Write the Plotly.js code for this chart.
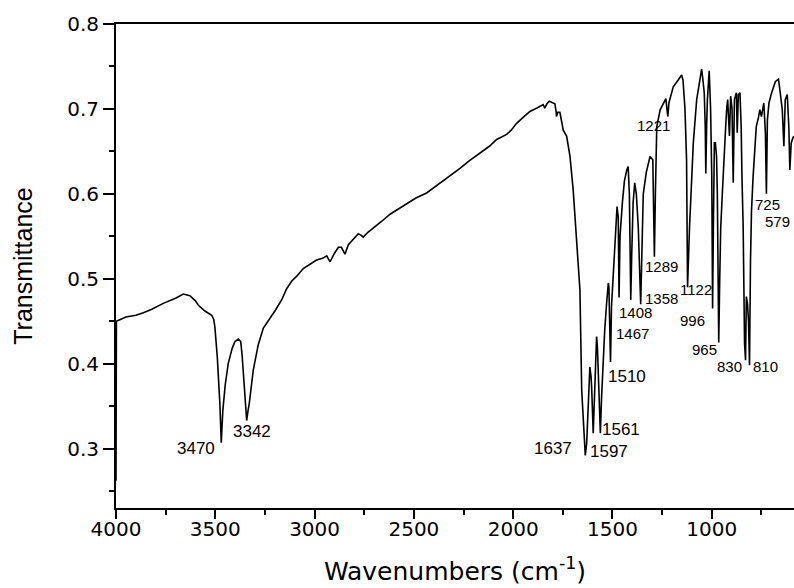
<!DOCTYPE html>
<html>
<head>
<meta charset="utf-8">
<script src="https://cdn.plot.ly/plotly-3.0.1.min.js"></script>
<style>
  html, body { margin: 0; padding: 0; background: #ffffff; }
  #chart { width: 794px; height: 588px; }
</style>
</head>
<body>
<div id="chart"></div>
<script>
// ---- Spectrum data (wavenumber in cm-1, transmittance) ----
const wavenumber = [
  4000, 3998, 3950, 3900, 3862, 3820, 3762, 3700, 3661, 3640, 3628, 3600, 3586, 3552, 3530, 3518, 3508, 3502, 3490, 3477,
  3470, 3462, 3450, 3435, 3415, 3401, 3384, 3372, 3365, 3359, 3350, 3342, 3335, 3329, 3309, 3284, 3258, 3225, 3200, 3166,
  3141, 3116, 3090, 3057, 3030, 2990, 2960, 2939, 2930, 2922, 2900, 2880, 2865, 2847, 2830, 2800, 2780, 2765, 2755, 2730,
  2696, 2660, 2620, 2580, 2536, 2490, 2436, 2400, 2352, 2310, 2268, 2220, 2167, 2120, 2083, 2050, 2033, 2010, 1983, 1950,
  1916, 1880, 1849, 1841, 1830, 1818, 1800, 1790, 1784, 1782, 1775, 1765, 1755, 1748, 1731, 1714, 1698, 1681, 1664, 1655,
  1646, 1637, 1630, 1622, 1614, 1608, 1605, 1597, 1590, 1580, 1576, 1572, 1561, 1555, 1547, 1539, 1530, 1521, 1518, 1510,
  1505, 1497, 1489, 1482, 1477, 1474, 1471, 1467, 1462, 1450, 1440, 1428, 1421, 1415, 1408, 1403, 1396, 1388, 1380, 1370,
  1358, 1352, 1345, 1330, 1311, 1297, 1293, 1289, 1284, 1277, 1260, 1240, 1231, 1226, 1221, 1216, 1194, 1169, 1152, 1145,
  1135, 1127, 1122, 1112, 1093, 1076, 1060, 1051, 1045, 1038, 1033, 1030, 1026, 1022, 1013, 1006, 1000, 996, 992, 987,
  982, 976, 972, 965, 960, 955, 947, 938, 930, 925, 920, 911, 905, 898, 892, 886, 876, 872, 866, 858,
  852, 848, 842, 835, 830, 826, 820, 815, 810, 805, 800, 792, 780, 776, 765, 758, 750, 738, 730, 725,
  720, 712, 700, 691, 680, 671, 664, 660, 652, 645, 637, 630, 620, 612, 607, 600, 593, 587
];
const transmittance = [
  0.262, 0.450, 0.455, 0.457, 0.460, 0.464, 0.471, 0.477, 0.482, 0.481, 0.480, 0.474, 0.469, 0.462, 0.459, 0.457, 0.452, 0.443, 0.408, 0.353,
  0.307, 0.345, 0.375, 0.400, 0.418, 0.426, 0.429, 0.426, 0.410, 0.392, 0.355, 0.333, 0.345, 0.353, 0.392, 0.422, 0.442, 0.453, 0.462, 0.475,
  0.488, 0.497, 0.503, 0.512, 0.516, 0.522, 0.524, 0.527, 0.523, 0.520, 0.530, 0.537, 0.537, 0.529, 0.540, 0.548, 0.553, 0.551, 0.549, 0.555,
  0.561, 0.568, 0.576, 0.582, 0.589, 0.595, 0.601, 0.607, 0.616, 0.623, 0.630, 0.639, 0.648, 0.656, 0.664, 0.668, 0.670, 0.675, 0.683, 0.690,
  0.697, 0.701, 0.705, 0.701, 0.706, 0.709, 0.707, 0.706, 0.697, 0.691, 0.696, 0.696, 0.684, 0.675, 0.668, 0.644, 0.605, 0.546, 0.487, 0.369,
  0.330, 0.292, 0.306, 0.360, 0.396, 0.385, 0.373, 0.318, 0.370, 0.432, 0.420, 0.388, 0.318, 0.360, 0.410, 0.440, 0.470, 0.495, 0.490, 0.402,
  0.467, 0.505, 0.530, 0.570, 0.585, 0.578, 0.573, 0.478, 0.550, 0.590, 0.615, 0.628, 0.632, 0.600, 0.475, 0.530, 0.590, 0.613, 0.600, 0.560,
  0.470, 0.530, 0.600, 0.625, 0.644, 0.640, 0.600, 0.526, 0.600, 0.679, 0.699, 0.708, 0.712, 0.700, 0.691, 0.707, 0.726, 0.734, 0.740, 0.734,
  0.700, 0.640, 0.490, 0.561, 0.660, 0.711, 0.735, 0.747, 0.735, 0.719, 0.680, 0.624, 0.680, 0.711, 0.745, 0.700, 0.620, 0.465, 0.560, 0.660,
  0.660, 0.644, 0.600, 0.425, 0.500, 0.560, 0.600, 0.650, 0.679, 0.700, 0.711, 0.668, 0.715, 0.700, 0.613, 0.711, 0.719, 0.672, 0.717, 0.719,
  0.679, 0.620, 0.561, 0.424, 0.404, 0.479, 0.470, 0.450, 0.398, 0.522, 0.580, 0.620, 0.660, 0.679, 0.690, 0.699, 0.691, 0.707, 0.672, 0.600,
  0.687, 0.707, 0.718, 0.725, 0.732, 0.734, 0.735, 0.728, 0.712, 0.699, 0.656, 0.711, 0.717, 0.679, 0.628, 0.660, 0.665, 0.668
];

// ---- Peak labels (text and anchor point in data coordinates) ----
const peakLabels = ['3470', '3342', '1637', '1597', '1561', '1510', '1467', '1408', '1358', '1289', '1221', '1122', '996', '965', '830', '810', '725', '579'];
const peakLabelX = [3597, 3317, 1800, 1518, 1459, 1426, 1400, 1384, 1251, 1251, 1296, 1082, 1095, 1037, 909, 730, 720, 668];
const peakLabelY = [0.300, 0.320, 0.300, 0.297, 0.322, 0.385, 0.436, 0.460, 0.477, 0.514, 0.680, 0.487, 0.451, 0.417, 0.397, 0.397, 0.588, 0.567];
const largerLabels = ['3470', '3342', '1637', '1597', '1561', '1510'];

// ---- Axis ticks ----
const xTickValues = [4000, 3500, 3000, 2500, 2000, 1500, 1000];
const yTickValues = [0.3, 0.4, 0.5, 0.6, 0.7, 0.8];

const trace = {
  type: 'scatter',
  mode: 'lines',
  x: wavenumber,
  y: transmittance,
  line: { color: '#000000', width: 1.6 },
  hoverinfo: 'x+y'
};

const annotations = peakLabels.map((t, i) => ({
  x: peakLabelX[i],
  y: peakLabelY[i],
  xref: 'x',
  yref: 'y',
  text: t,
  showarrow: false,
  xanchor: 'center',
  yanchor: 'middle',
  font: { family: 'Liberation Sans, Arial, sans-serif', size: largerLabels.includes(t) ? 17 : 15, color: '#000000' }
}));

const layout = {
  width: 794,
  height: 588,
  margin: { l: 116, r: 0, t: 24, b: 80 },
  paper_bgcolor: '#ffffff',
  plot_bgcolor: '#ffffff',
  showlegend: false,
  xaxis: {
    range: [4000, 586],
    tickvals: xTickValues,
    ticktext: xTickValues.map(String),
    ticks: 'outside',
    ticklen: 9,
    tickwidth: 2,
    tickcolor: '#000000',
    ticklabelstandoff: -7,
    minor: { dtick: 250, tick0: 0, ticks: 'outside', ticklen: 5, tickwidth: 2, tickcolor: '#000000' },
    showline: true,
    linewidth: 2,
    linecolor: '#000000',
    mirror: true,
    showgrid: false,
    zeroline: false,
    tickfont: { family: 'DejaVu Sans, sans-serif', size: 20, color: '#000000' },
    title: {
      text: 'Wavenumbers (cm<sup>-1</sup>)',
      font: { family: 'DejaVu Sans, sans-serif', size: 25, color: '#000000' },
      standoff: 22
    }
  },
  yaxis: {
    range: [0.23, 0.8],
    tickvals: yTickValues,
    ticktext: yTickValues.map(v => v.toFixed(1)),
    ticks: 'outside',
    ticklen: 11,
    tickwidth: 2,
    tickcolor: '#000000',
    minor: { dtick: 0.05, tick0: 0, ticks: 'outside', ticklen: 5, tickwidth: 2, tickcolor: '#000000' },
    showline: true,
    linewidth: 2,
    linecolor: '#000000',
    showgrid: false,
    zeroline: false,
    tickfont: { family: 'DejaVu Sans, sans-serif', size: 20, color: '#000000' },
    title: {
      text: 'Transmittance',
      font: { family: 'Liberation Sans, Arial, sans-serif', size: 25, color: '#000000' },
      standoff: 27
    }
  },
  annotations: annotations
};

Plotly.newPlot('chart', [trace], layout, { staticPlot: true, displayModeBar: false });
</script>
</body>
</html>
